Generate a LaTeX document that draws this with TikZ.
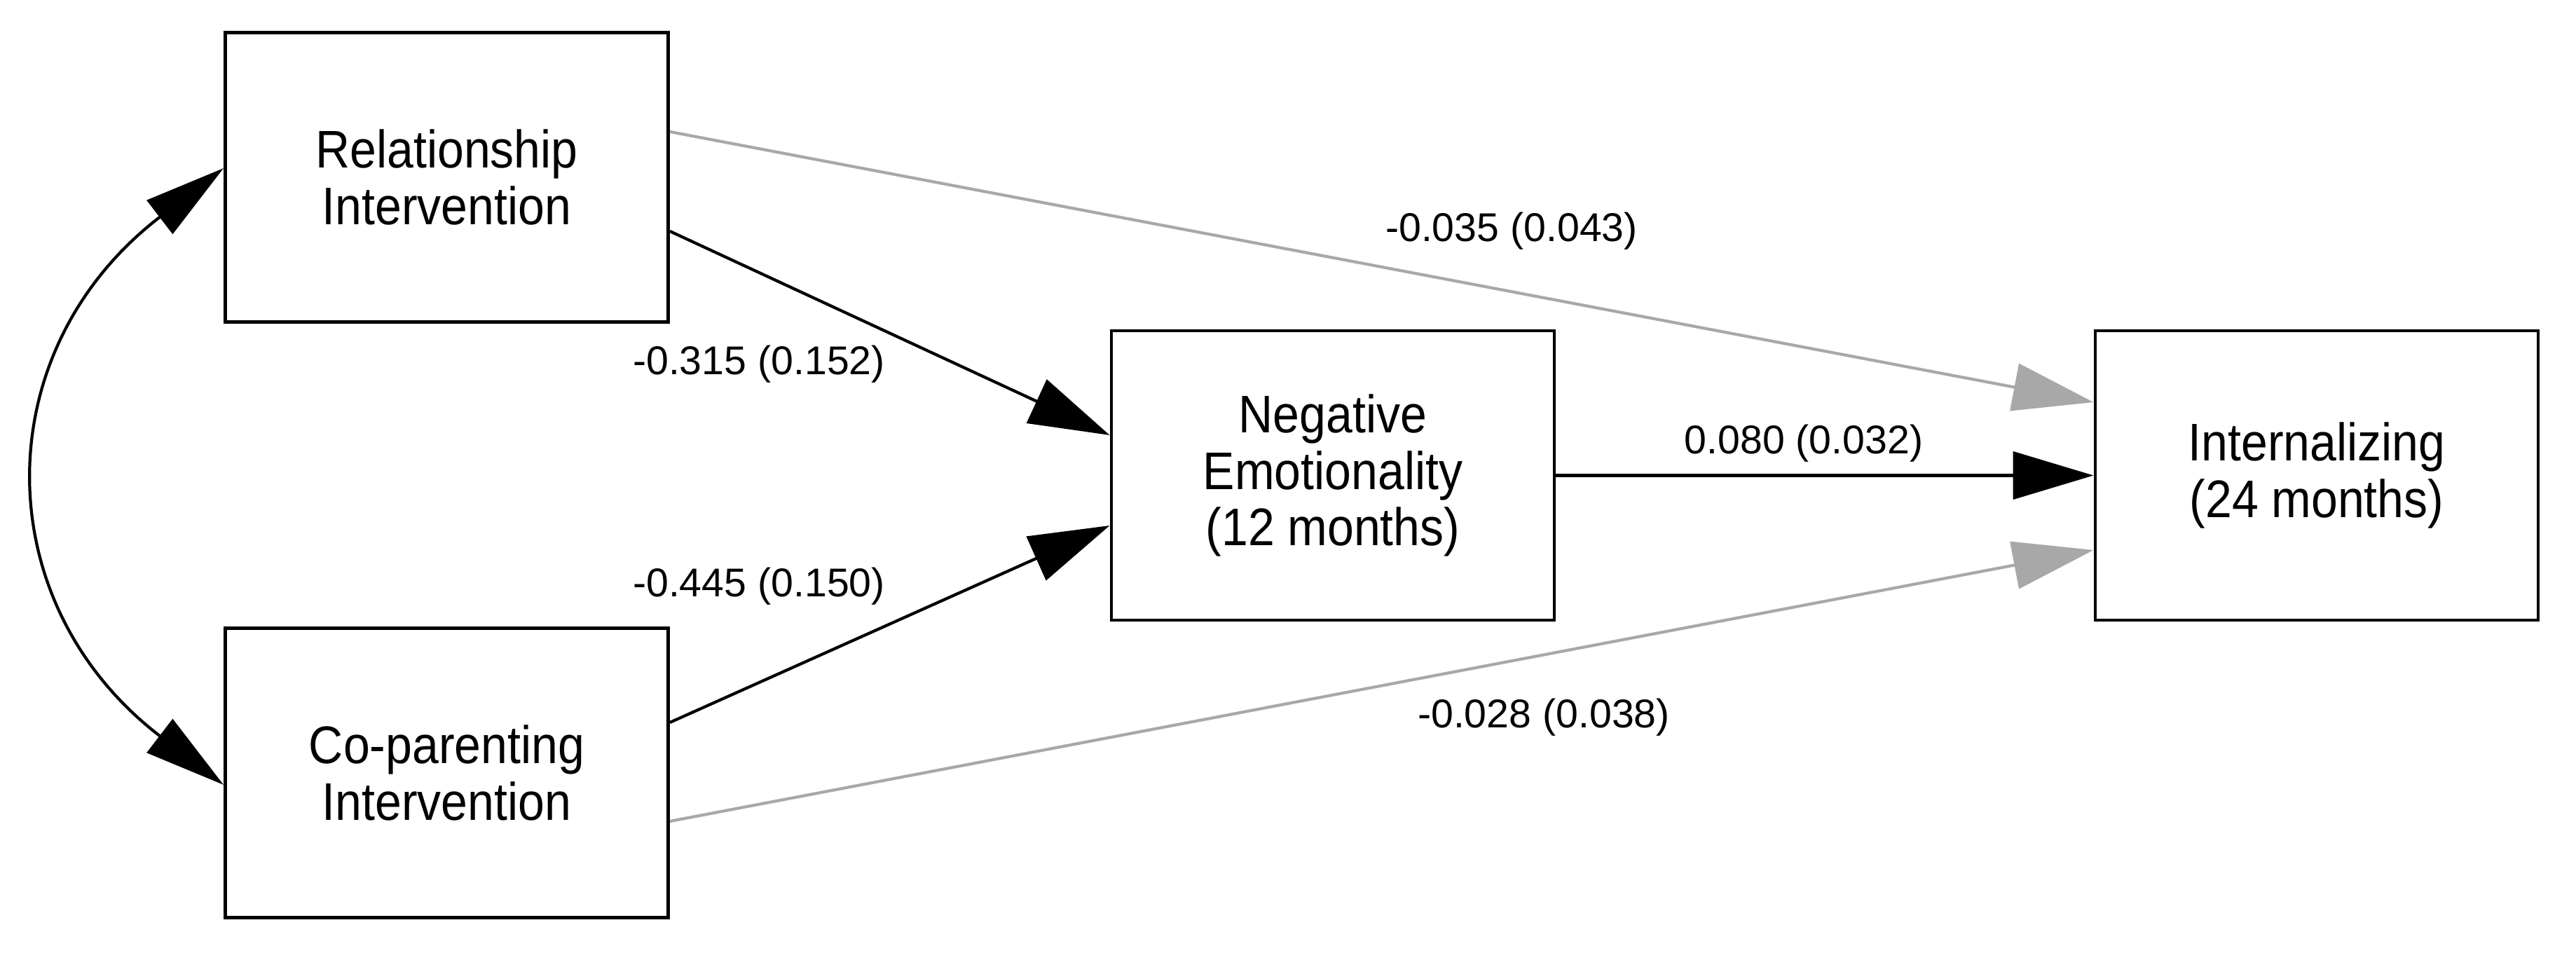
\documentclass[tikz,border=0pt]{standalone}
\usepackage{fontspec}
\setmainfont{Liberation Sans}
\newfontfamily\boxfont[FakeStretch=0.9]{Liberation Sans}
\usepackage{tikz}
\usetikzlibrary{arrows.meta,calc,positioning}
\definecolor{nsgray}{RGB}{168,168,168}

\begin{document}
\begin{tikzpicture}[
  var/.style={draw,line width=1.4pt,minimum width=6.32cm,minimum height=4.13cm,align=center,inner sep=0pt,font=\boxfont\fontsize{21.5}{23}\selectfont},
  coef/.style={font=\fontsize{16.3}{19}\selectfont,inner sep=0pt},
  effect/.style={line width=1.2pt,-{Triangle[length=1.15cm,width=0.68cm]}},
  nseffect/.style={effect,nsgray}]
  \useasboundingbox (0,0) rectangle (36.76,-13.60);
  \node[var] (rel) at (6.375,-2.53) {Relationship\\Intervention};
  \node[var] (cop) at (6.375,-11.03) {Co-parenting\\Intervention};
  \node[var] (neg) at (19.02,-6.785) {Negative\\Emotionality\\(12 months)};
  \node[var] (int) at (33.06,-6.785) {Internalizing\\(24 months)};
  \draw[nseffect] ([yshift=0.65cm]rel.east) -- ([yshift=1.045cm]int.west);
  \draw[nseffect] ([yshift=-0.69cm]cop.east) -- ([yshift=-1.065cm]int.west);
  \draw[effect] ([yshift=-0.77cm]rel.east) -- ([yshift=0.575cm]neg.west);
  \draw[effect] ([yshift=0.72cm]cop.east) -- ([yshift=-0.715cm]neg.west);
  \draw[effect] (neg.east) -- (int.west);
  \draw[line width=1.2pt,{Triangle[length=1.15cm,width=0.6cm]}-{Triangle[length=1.15cm,width=0.6cm]}]
    ([yshift=0.13cm]rel.west) .. controls (-0.2,-5.0) and (-0.2,-8.6) .. ([yshift=-0.17cm]cop.west);
  \node[coef] (b1) at (10.83,-5.20) {-0.315 (0.152)};
  \node[coef] (b2) at (10.83,-8.37) {-0.445 (0.150)};
  \node[coef] (b3) at (25.74,-6.33) {0.080 (0.032)};
  \node[coef] (b4) at (21.57,-3.30) {-0.035 (0.043)};
  \node[coef] (b5) at (22.03,-10.24) {-0.028 (0.038)};
\end{tikzpicture}
\end{document}
